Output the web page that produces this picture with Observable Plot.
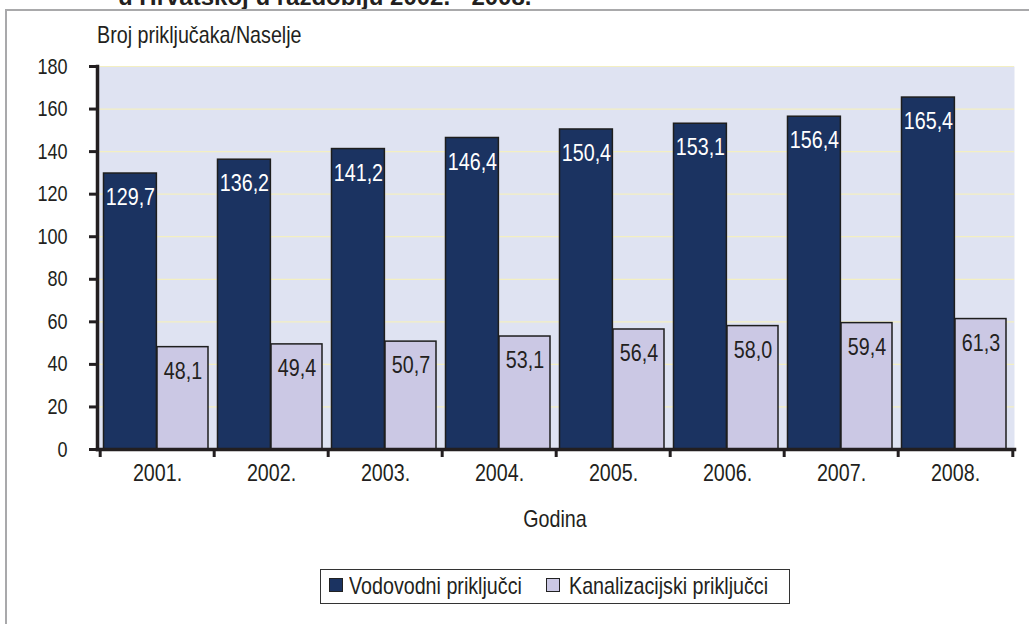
<!DOCTYPE html>
<html><head><meta charset="utf-8">
<script src="https://cdn.jsdelivr.net/npm/d3@7"></script>
<script src="https://cdn.jsdelivr.net/npm/@observablehq/plot@0.6"></script>
<style>
body{margin:0;background:#fff;}
#wrap{position:relative;width:1029px;height:624px;overflow:hidden;background:#fff;
  font-family:"Liberation Sans",Arial,sans-serif;color:#231f20;}
#wrap svg{position:absolute;left:0;top:0;overflow:visible;}
.abs{position:absolute;white-space:nowrap;font-size:24px;line-height:24px;}
.nar{transform:scaleX(0.82);transform-origin:0 50%;}
#title{left:118px;top:-15px;font-weight:bold;font-size:24px;}
#topline{position:absolute;left:6px;top:9px;width:1023px;height:2px;background:#a9a9ab;}
#leftline{position:absolute;left:5px;top:9px;width:2px;height:615px;background:#a9a9ab;}
#legend{position:absolute;left:320px;top:569px;width:470px;height:35px;border:1px solid #333;box-sizing:border-box;}
.sw{position:absolute;top:8px;width:14px;height:14px;border:1px solid #222;box-sizing:border-box;}
.lt{position:absolute;top:4px;font-size:24px;line-height:24px;white-space:nowrap;transform:scaleX(0.82);transform-origin:0 50%;}
</style></head><body><div id="wrap">
<div id="title" class="abs">u Hrvatskoj u razdoblju 2002. - 2008.</div>
<div id="topline"></div><div id="leftline"></div>
<div id="chart"></div>
<div class="abs nar" style="left:97px;top:23px;">Broj priključaka/Naselje</div>
<div class="abs" id="xlab" style="left:555px;top:507px;transform:translateX(-50%) scaleX(0.82);transform-origin:50% 50%;">Godina</div>
<div id="legend"></div>
</div>
<script>
const years = ["2001.","2002.","2003.","2004.","2005.","2006.","2007.","2008."];
const vodovodni = [129.7,136.2,141.2,146.4,150.4,153.1,156.4,165.4];
const kanalizacijski = [48.1,49.4,50.7,53.1,56.4,58.0,59.4,61.3];
const yTicks = [0,20,40,60,80,100,120,140,160,180];
const seriesNames = ["Vodovodni priključci","Kanalizacijski priključci"];
const colors = ["#1b3361","#cbc8e4"];

const data = years.map((y,i)=>({year:y, v:vodovodni[i], k:kanalizacijski[i]}));
const W=1029, H=540, mL=97, mR=15, mT=66, mB=91;
const bw = (W-mL-mR)/years.length;
const fmt = d => d.toFixed(1).replace(".", ",");
const ink = "#231f20";
const font = '"Liberation Sans",Arial,sans-serif';

const darkL = 3.5, darkR = 57, lightL = 57, lightR = bw-6;

const plot = Plot.plot({
  width: W, height: H,
  marginLeft: mL, marginRight: mR, marginTop: mT, marginBottom: mB,
  style: {fontFamily: font, color: ink, background: "transparent", overflow: "visible"},
  x: {type: "band", domain: years, padding: 0, axis: null},
  y: {domain: [0,180], axis: null},
  marks: [
    Plot.frame({fill: "#dfe3f2", stroke: "none"}),
    Plot.ruleY(yTicks.filter(d=>d>0), {stroke: "#f3efc2", strokeWidth: 1.2}),
    Plot.barY(data, {x: "year", y: "v", fill: colors[0], stroke: "#1e1e1e", strokeWidth: 1.5,
      insetLeft: darkL, insetRight: bw-darkR}),
    Plot.barY(data, {x: "year", y: "k", fill: colors[1], stroke: "#1e1e1e", strokeWidth: 1.5,
      insetLeft: lightL, insetRight: bw-lightR}),
    Plot.text(data, {x: "year", y: "v", text: d=>fmt(d.v), fill: "white", fontSize: 24,
      dx: (darkL+darkR)/2 - bw/2, dy: 24}),
    Plot.text(data, {x: "year", y: "k", text: d=>fmt(d.k), fill: ink, fontSize: 24,
      dx: (lightL+lightR)/2 - bw/2, dy: 24}),
    Plot.frame({anchor: "left", stroke: ink, strokeWidth: 3.5}),
    Plot.frame({anchor: "bottom", stroke: ink, strokeWidth: 3.5}),
    Plot.axisY({ticks: yTicks, tickSize: 8, tickPadding: 22, tickFormat: d=>String(d), label: null,
      fontSize: 22, stroke: ink, strokeWidth: 3, fill: ink}),
    Plot.axisX({tickSize: 8, dx: -bw/2, fill: "none", label: null, stroke: ink, strokeWidth: 3}),
    Plot.axisX({ticks: [years[years.length-1]], tickSize: 8, dx: bw/2, fill: "none", label: null, stroke: ink, strokeWidth: 3}),
    Plot.axisX({tickSize: 0, tickPadding: 14, stroke: "none", label: null, fontSize: 24, fill: ink})
  ]
});
document.getElementById("chart").appendChild(plot);

// condense the SVG texts (narrow typeface look)
plot.querySelectorAll("text").forEach(t => {
  const L = t.getComputedTextLength();
  if (L > 0) {
    t.setAttribute("textLength", (L*0.82).toFixed(2));
    t.setAttribute("lengthAdjust", "spacingAndGlyphs");
  }
});

const legend = document.getElementById("legend");
const pos = [[8, 28],[225, 248]];
seriesNames.forEach((n,i)=>{
  const s = document.createElement("div");
  s.className = "sw"; s.style.left = pos[i][0]+"px"; s.style.background = colors[i];
  legend.appendChild(s);
  const t = document.createElement("div");
  t.className = "lt"; t.style.left = pos[i][1]+"px"; t.textContent = n;
  legend.appendChild(t);
});
</script>
</body></html>
